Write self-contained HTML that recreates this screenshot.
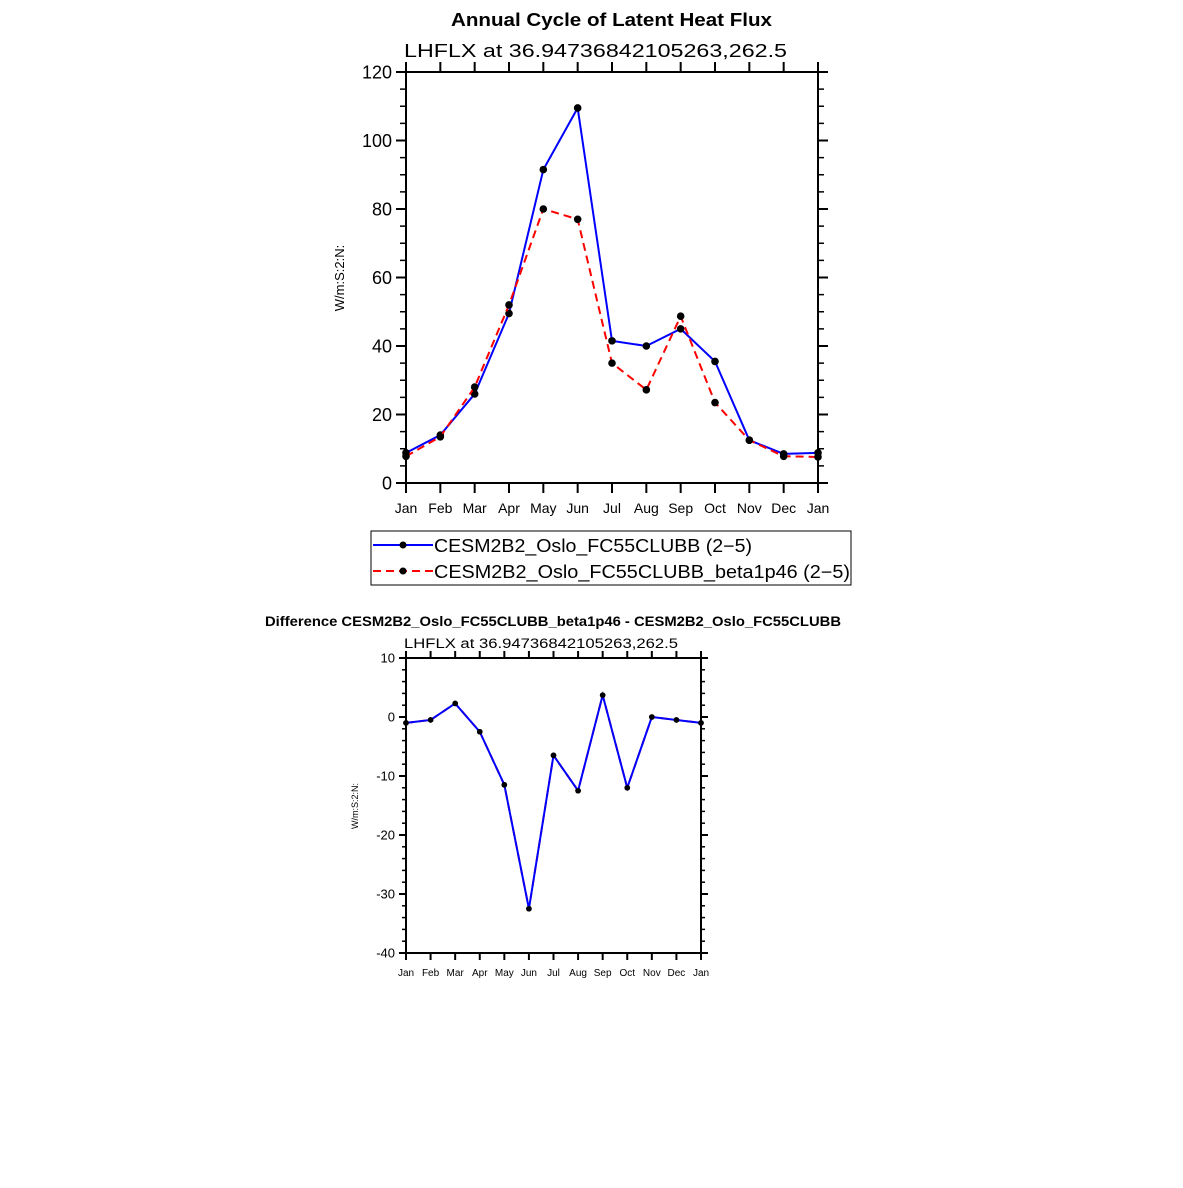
<!DOCTYPE html>
<html><head><meta charset="utf-8"><style>
html,body{margin:0;padding:0;background:#fff;}
svg text{font-family:"Liberation Sans",sans-serif;fill:#000;}
</style></head><body>
<svg id="s" width="1183" height="1183" viewBox="0 0 1183 1183" xmlns="http://www.w3.org/2000/svg">
<rect width="1183" height="1183" fill="#fff"/>
<text x="451" y="26" font-size="18" font-weight="bold" textLength="321" lengthAdjust="spacingAndGlyphs">Annual Cycle of Latent Heat Flux</text>
<text x="404" y="57" font-size="18" textLength="383" lengthAdjust="spacingAndGlyphs">LHFLX  at  36.94736842105263,262.5</text>
<text transform="translate(344,278) rotate(-90)" font-size="13" text-anchor="middle">W/m:S:2:N:</text>
<text x="265" y="626" font-size="13.5" font-weight="bold" textLength="576" lengthAdjust="spacingAndGlyphs">Difference CESM2B2_Oslo_FC55CLUBB_beta1p46 - CESM2B2_Oslo_FC55CLUBB</text>
<text x="404" y="648" font-size="13.5" textLength="274" lengthAdjust="spacingAndGlyphs">LHFLX  at  36.94736842105263,262.5</text>
<text transform="translate(358,806) rotate(-90)" font-size="9" text-anchor="middle">W/m:S:2:N:</text>
<g>
<rect x="371" y="531" width="480" height="54" fill="none" stroke="#000" stroke-width="1"/>
<line x1="373" y1="545" x2="433" y2="545" stroke="#0000ff" stroke-width="2"/>
<circle cx="403" cy="545" r="3.5" fill="#000"/>
<text x="434" y="552" font-size="18" textLength="318" lengthAdjust="spacingAndGlyphs">CESM2B2_Oslo_FC55CLUBB (2−5)</text>
<line x1="373" y1="571" x2="433" y2="571" stroke="#ff0000" stroke-width="2" stroke-dasharray="8,5"/>
<circle cx="403" cy="571" r="3.5" fill="#000"/>
<text x="434" y="578" font-size="18" textLength="416" lengthAdjust="spacingAndGlyphs">CESM2B2_Oslo_FC55CLUBB_beta1p46 (2−5)</text>
</g>
</svg>
<script>
const months=["Jan","Feb","Mar","Apr","May","Jun","Jul","Aug","Sep","Oct","Nov","Dec","Jan"];
const baseVals=[8.8,14,26,49.5,91.5,109.5,41.5,40,45,35.5,12.5,8.5,8.8];
const betaVals=[7.8,13.5,28,52,80,77,35,27.2,48.7,23.5,12.5,7.8,7.6];
const diffVals=[-1,-0.5,2.3,-2.5,-11.5,-32.5,-6.5,-12.5,3.7,-12,0,-0.5,-1];
const topTicks=[0,20,40,60,80,100,120];
const diffTicks=[-40,-30,-20,-10,0,10];
const NS="http://www.w3.org/2000/svg";
const svg=document.getElementById('s');
function mk(t,a,p){const e=document.createElementNS(NS,t);for(const k in a)e.setAttribute(k,a[k]);(p||svg).appendChild(e);return e;}
function panel(o){
  const g=mk('g',{});
  
  
  const X=i=>o.x0+(o.x1-o.x0)*i/12;
  const Y=v=>o.y1-(v-o.ymin)/(o.ymax-o.ymin)*(o.y1-o.y0);
  for(let v=o.ymin;v<=o.ymax+1e-9;v+=o.minor){
    mk('line',{x1:o.x0-o.mnl,y1:Y(v),x2:o.x0,y2:Y(v),stroke:'#000','stroke-width':1.5},g);
    mk('line',{x1:o.x1,y1:Y(v),x2:o.x1+o.mnl,y2:Y(v),stroke:'#000','stroke-width':1.5},g);
  }
  o.ticks.forEach(v=>{
    mk('line',{x1:o.x0-o.mjl,y1:Y(v),x2:o.x0,y2:Y(v),stroke:'#000','stroke-width':2},g);
    mk('line',{x1:o.x1,y1:Y(v),x2:o.x1+o.mjl,y2:Y(v),stroke:'#000','stroke-width':2},g);
    const t=mk('text',{x:o.x0-o.mjl-4,y:Y(v)+o.fs*0.36,'font-size':o.fs,'text-anchor':'end'},g);
    
    
    t.textContent=v;
  });
  months.forEach((m,i)=>{
    mk('line',{x1:X(i),y1:o.y1,x2:X(i),y2:o.y1+o.mjl,stroke:'#000','stroke-width':2},g);
    mk('line',{x1:X(i),y1:o.y0-o.mjl,x2:X(i),y2:o.y0,stroke:'#000','stroke-width':2},g);
    const t=mk('text',{x:X(i),y:o.y1+o.mjl+o.xfs+6,'font-size':o.xfs,'text-anchor':'middle'},g);
    
    
    t.textContent=m;
  });
  mk('rect',{x:o.x0,y:o.y0,width:o.x1-o.x0,height:o.y1-o.y0,fill:'none',stroke:'#000','stroke-width':2},g);
  o.series.forEach(s=>{
    const l=mk('polyline',{points:s.v.map((v,i)=>X(i)+','+Y(v)).join(' '),fill:'none',stroke:s.c,'stroke-width':2,'stroke-dasharray':s.d||'none'},g);
    
    
    s.v.forEach((v,i)=>{
      const c=mk('circle',{cx:X(i),cy:Y(v),r:o.r,fill:'#000'},g);
      
      
    });
  });
}
panel({name:'top-plot',x0:406,x1:818,y0:72,y1:483,ymin:0,ymax:120,minor:5,ticks:topTicks,mjl:10,mnl:6,fs:18,xfs:14,r:3.8,
  series:[{v:baseVals,c:'#0000ff',n:'base-series'},{v:betaVals,c:'#ff0000',d:'8,5',n:'beta-series'}]});
panel({name:'diff-plot',x0:406,x1:701,y0:658,y1:953,ymin:-40,ymax:10,minor:2,ticks:diffTicks,mjl:7,mnl:4,fs:13,xfs:10,r:2.8,
  series:[{v:diffVals,c:'#ff0000',d:'8,5',n:'diff-series-red'},{v:diffVals,c:'#0000ff',n:'diff-series'}]});
</script>
</body></html>
